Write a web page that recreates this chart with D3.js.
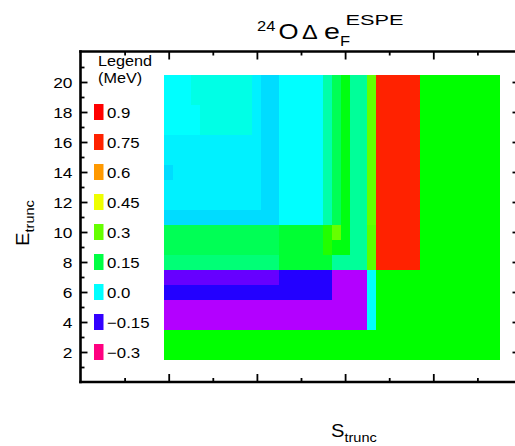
<!DOCTYPE html>
<html><head><meta charset="utf-8">
<script src="https://cdn.jsdelivr.net/npm/d3@7/dist/d3.min.js"></script>
<style>
body{margin:0;background:#fff}
svg{display:block}
text{font-family:"Liberation Sans",Arial,Helvetica,sans-serif;fill:#000}
</style>
</head><body>
<script>
// ---------------- DATA ----------------
const sValues = [10,11,12,13,14,15,16,17,18,19,20,21,22,23,24,25,26,27,28,29,30,31,32,33,34,35,36,37,38,39,40,41,42,43,44,45,46,47];
const eValues = [20,19,18,17,16,15,14,13,12,11,10,9,8,7,6,5,4,3,2];
// Δe_F^ESPE (MeV), one row per E_trunc (20 → 2), one column per S_trunc (10 → 47)
const row20 = [0,0,0,0.02,0.02,0.02,0.02,0.02,0.02,0.02,-0.007,-0.017,-0.017,0,0,0,0,0,0.068,0.136,0.195,0.082,0.082,0.3,0.75,0.75,0.75,0.75,0.75,0.21,0.21,0.21,0.21,0.21,0.21,0.21,0.21,0.21];
const row19 = [0,0,0,0.02,0.02,0.02,0.02,0.02,0.02,0.02,-0.007,-0.017,-0.017,0,0,0,0,0,0.068,0.136,0.195,0.082,0.082,0.3,0.75,0.75,0.75,0.75,0.75,0.21,0.21,0.21,0.21,0.21,0.21,0.21,0.21,0.21];
const row18 = [0,0,0,0,0.02,0.02,0.02,0.02,0.02,0.02,-0.007,-0.017,-0.017,0,0,0,0,0,0.068,0.136,0.195,0.082,0.082,0.3,0.75,0.75,0.75,0.75,0.75,0.21,0.21,0.21,0.21,0.21,0.21,0.21,0.21,0.21];
const row17 = [0,0,0,0,0.02,0.02,0.02,0.02,0.02,0.02,-0.007,-0.017,-0.017,0,0,0,0,0,0.068,0.136,0.195,0.082,0.082,0.3,0.75,0.75,0.75,0.75,0.75,0.21,0.21,0.21,0.21,0.21,0.21,0.21,0.21,0.21];
const row16 = [-0.007,-0.007,-0.007,-0.007,-0.007,-0.007,-0.007,-0.007,-0.007,-0.007,-0.007,-0.017,-0.017,0,0,0,0,0,0.068,0.136,0.195,0.082,0.082,0.3,0.75,0.75,0.75,0.75,0.75,0.21,0.21,0.21,0.21,0.21,0.21,0.21,0.21,0.21];
const row15 = [-0.007,-0.007,-0.007,-0.007,-0.007,-0.007,-0.007,-0.007,-0.007,-0.007,-0.007,-0.017,-0.017,0,0,0,0,0,0.068,0.136,0.195,0.082,0.082,0.3,0.75,0.75,0.75,0.75,0.75,0.21,0.21,0.21,0.21,0.21,0.21,0.21,0.21,0.21];
const row14 = [-0.017,-0.007,-0.007,-0.007,-0.007,-0.007,-0.007,-0.007,-0.007,-0.007,-0.007,-0.017,-0.017,0,0,0,0,0,0.068,0.136,0.195,0.082,0.082,0.3,0.75,0.75,0.75,0.75,0.75,0.21,0.21,0.21,0.21,0.21,0.21,0.21,0.21,0.21];
const row13 = [-0.007,-0.007,-0.007,-0.007,-0.007,-0.007,-0.007,-0.007,-0.007,-0.007,-0.007,-0.017,-0.017,0,0,0,0,0,0.068,0.136,0.195,0.082,0.082,0.3,0.75,0.75,0.75,0.75,0.75,0.21,0.21,0.21,0.21,0.21,0.21,0.21,0.21,0.21];
const row12 = [-0.007,-0.007,-0.007,-0.007,-0.007,-0.007,-0.007,-0.007,-0.007,-0.007,-0.007,-0.017,-0.017,0,0,0,0,0,0.068,0.136,0.195,0.082,0.082,0.3,0.75,0.75,0.75,0.75,0.75,0.21,0.21,0.21,0.21,0.21,0.21,0.21,0.21,0.21];
const row11 = [-0.017,-0.017,-0.017,-0.017,-0.017,-0.017,-0.017,-0.017,-0.017,-0.017,-0.017,-0.017,-0.017,0,0,0,0,0,0.068,0.136,0.195,0.082,0.082,0.3,0.75,0.75,0.75,0.75,0.75,0.21,0.21,0.21,0.21,0.21,0.21,0.21,0.21,0.21];
const row10 = [0.136,0.136,0.136,0.136,0.136,0.136,0.136,0.136,0.136,0.136,0.136,0.136,0.136,0.165,0.165,0.165,0.165,0.165,0.24,0.3,0.195,0.082,0.082,0.29,0.75,0.75,0.75,0.75,0.75,0.21,0.21,0.21,0.21,0.21,0.21,0.21,0.21,0.21];
const row9  = [0.136,0.136,0.136,0.136,0.136,0.136,0.136,0.136,0.136,0.136,0.136,0.136,0.136,0.165,0.165,0.165,0.165,0.165,0.24,0.195,0.195,0.082,0.082,0.29,0.75,0.75,0.75,0.75,0.75,0.21,0.21,0.21,0.21,0.21,0.21,0.21,0.21,0.21];
const row8  = [0.11,0.11,0.11,0.11,0.11,0.11,0.11,0.11,0.11,0.11,0.11,0.11,0.11,0.165,0.165,0.165,0.165,0.165,0.165,0.082,0.082,0.082,0.082,0.29,0.75,0.75,0.75,0.75,0.75,0.21,0.21,0.21,0.21,0.21,0.21,0.21,0.21,0.21];
const row7  = [-0.173,-0.173,-0.173,-0.173,-0.173,-0.173,-0.173,-0.173,-0.173,-0.173,-0.173,-0.173,-0.173,-0.142,-0.142,-0.142,-0.142,-0.142,-0.142,-0.208,-0.208,-0.208,-0.208,0,0.21,0.21,0.21,0.21,0.21,0.21,0.21,0.21,0.21,0.21,0.21,0.21,0.21,0.21];
const row6  = [-0.142,-0.142,-0.142,-0.142,-0.142,-0.142,-0.142,-0.142,-0.142,-0.142,-0.142,-0.142,-0.142,-0.142,-0.142,-0.142,-0.142,-0.142,-0.142,-0.208,-0.208,-0.208,-0.208,0,0.21,0.21,0.21,0.21,0.21,0.21,0.21,0.21,0.21,0.21,0.21,0.21,0.21,0.21];
const row5  = [-0.208,-0.208,-0.208,-0.208,-0.208,-0.208,-0.208,-0.208,-0.208,-0.208,-0.208,-0.208,-0.208,-0.208,-0.208,-0.208,-0.208,-0.208,-0.208,-0.208,-0.208,-0.208,-0.208,0,0.21,0.21,0.21,0.21,0.21,0.21,0.21,0.21,0.21,0.21,0.21,0.21,0.21,0.21];
const row4  = [-0.208,-0.208,-0.208,-0.208,-0.208,-0.208,-0.208,-0.208,-0.208,-0.208,-0.208,-0.208,-0.208,-0.208,-0.208,-0.208,-0.208,-0.208,-0.208,-0.208,-0.208,-0.208,-0.208,0,0.21,0.21,0.21,0.21,0.21,0.21,0.21,0.21,0.21,0.21,0.21,0.21,0.21,0.21];
const row3  = [0.21,0.21,0.21,0.21,0.21,0.21,0.21,0.21,0.21,0.21,0.21,0.21,0.21,0.21,0.21,0.21,0.21,0.21,0.21,0.21,0.21,0.21,0.21,0.21,0.21,0.21,0.21,0.21,0.21,0.21,0.21,0.21,0.21,0.21,0.21,0.21,0.21,0.21];
const row2  = [0.21,0.21,0.21,0.21,0.21,0.21,0.21,0.21,0.21,0.21,0.21,0.21,0.21,0.21,0.21,0.21,0.21,0.21,0.21,0.21,0.21,0.21,0.21,0.21,0.21,0.21,0.21,0.21,0.21,0.21,0.21,0.21,0.21,0.21,0.21,0.21,0.21,0.21];
const cellValues = [row20,row19,row18,row17,row16,row15,row14,row13,row12,row11,row10,row9,row8,row7,row6,row5,row4,row3,row2];

const legendValues = [0.9,0.75,0.6,0.45,0.3,0.15,0.0,-0.15,-0.3];
const legendLabels = ["0.9","0.75","0.6","0.45","0.3","0.15","0.0","\u22120.15","\u22120.3"];
const legendColors = ["#ff0000","#ff2200","#ff9900","#eeff00","#66ff00","#00ff44","#00ffff","#3300ff","#ff0080"];
const yMajorTicks = [2,4,6,8,10,12,14,16,18,20];
const yMinorTicks = [1,3,5,7,9,11,13,15,17,19,21];
const xMajorTicks = [10,20,30,40];
const xMinorTicks = [5,15,25,35,45];

// ---------------- CHART ----------------
const W = 515, H = 446, SX = 1.12;
const svg = d3.select("body").append("svg").attr("width", W).attr("height", H);
const x = d3.scaleLinear().domain([0, 50]).range([80.5, 521.5]);
const y = d3.scaleLinear().domain([0, 22]).range([382, 52]);
const color = d3.scaleLinear()
  .domain(legendValues.slice().reverse())
  .range(legendColors.slice().reverse())
  .interpolate(d3.interpolateHsl).clamp(true);

// cells
const cells = [];
eValues.forEach((e, i) => sValues.forEach((s, j) => cells.push({s, e, v: cellValues[i][j]})));
svg.append("g").selectAll("rect").data(cells).join("rect")
  .attr("x", d => x(d.s - 0.5))
  .attr("y", d => y(d.e + 0.5))
  .attr("width", d => x(d.s + 0.5) - x(d.s - 0.5) + 0.4)
  .attr("height", d => y(d.e - 0.5) - y(d.e + 0.5) + 0.4)
  .attr("fill", d => color(d.v))
  .attr("shape-rendering", "crispEdges");

// axes ticks
function styleAxis(g) {
  g.select(".domain").remove();
  g.selectAll(".tick line").attr("stroke", "#000").attr("stroke-width", 1.8);
}
const gL = svg.append("g").attr("transform", `translate(${x(0)},0)`)
  .call(d3.axisLeft(y).tickValues(yMajorTicks).tickSize(-7).tickPadding(8).tickFormat(d3.format("d")));
styleAxis(gL);
gL.selectAll(".tick text").attr("font-size", null).style("font-size", "15.5px")
  .attr("x", null).attr("dy", null)
  .attr("transform", `translate(-8,5.6) scale(${SX},1)`).attr("font-family", null);
const gLm = svg.append("g").attr("transform", `translate(${x(0)},0)`)
  .call(d3.axisLeft(y).tickValues(yMinorTicks).tickSize(-4).tickFormat(""));
styleAxis(gLm);
const gR = svg.append("g").attr("transform", `translate(${x(50)},0)`)
  .call(d3.axisRight(y).tickValues(yMajorTicks).tickSize(-9).tickFormat(""));
styleAxis(gR);
const gRm = svg.append("g").attr("transform", `translate(${x(50)},0)`)
  .call(d3.axisRight(y).tickValues(yMinorTicks).tickSize(-5).tickFormat(""));
styleAxis(gRm);
const gB = svg.append("g").attr("transform", `translate(0,${y(0)})`)
  .call(d3.axisBottom(x).tickValues(xMajorTicks).tickSize(-8).tickFormat(""));
styleAxis(gB);
const gBm = svg.append("g").attr("transform", `translate(0,${y(0)})`)
  .call(d3.axisBottom(x).tickValues(xMinorTicks).tickSize(-4).tickFormat(""));
styleAxis(gBm);
const gT = svg.append("g").attr("transform", `translate(0,${y(22) - 0.5})`)
  .call(d3.axisTop(x).tickValues(xMajorTicks).tickSize(-8).tickFormat(""));
styleAxis(gT);
const gTm = svg.append("g").attr("transform", `translate(0,${y(22) - 0.5})`)
  .call(d3.axisTop(x).tickValues(xMinorTicks).tickSize(-4).tickFormat(""));
styleAxis(gTm);

// frame
const frame = svg.append("g").attr("stroke", "#000").attr("stroke-width", 2.6).attr("fill", "none");
frame.append("line").attr("x1", x(0)).attr("x2", x(0)).attr("y1", y(22) - 1.8).attr("y2", y(0) + 1.3);
frame.append("line").attr("x1", x(0) - 1.3).attr("x2", x(50)).attr("y1", y(0)).attr("y2", y(0));
frame.append("line").attr("x1", x(0) - 1.3).attr("x2", x(50)).attr("y1", y(22) - 0.5).attr("y2", y(22) - 0.5);
frame.append("line").attr("x1", x(50)).attr("x2", x(50)).attr("y1", y(22)).attr("y2", y(0));

// text helper (horizontally stretched sans)
function stext(str, tx, ty, size, anchor, sx) {
  return svg.append("text")
    .attr("transform", `translate(${tx},${ty}) scale(${sx || SX},1)`)
    .attr("text-anchor", anchor || "start")
    .style("font-size", size + "px")
    .text(str);
}

// legend
stext("Legend", 98, 66, 15, "start", 1.08);
stext("(MeV)", 98, 83, 15, "start", 1.08);
const lg = svg.append("g");
legendValues.forEach((v, i) => {
  const cy = y(18 - 2 * i);
  lg.append("rect").attr("x", 94).attr("y", cy - 8).attr("width", 9.5).attr("height", 16)
    .attr("fill", legendColors[i]);
  stext(legendLabels[i], 107, cy + 5.5, 15, "start");
});

// title
stext("24", 257, 31, 15, "start", 1.1);
stext("O", 278.5, 38.5, 23, "start", 1.12);
stext("\u0394", 302, 38.5, 21, "start", 1.12);
stext("e", 324, 38.5, 22, "start", 1.3);
stext("F", 340, 45.5, 15, "start", 1.1);
stext("ESPE", 345.5, 25, 15, "start", 1.45);

// axis titles
const yl = svg.append("text").attr("transform", `translate(29,223) rotate(-90) scale(${SX},1)`)
  .attr("text-anchor", "middle");
yl.append("tspan").style("font-size", "18px").text("E");
yl.append("tspan").style("font-size", "13px").attr("dy", 5).text("trunc");
const xl = svg.append("text").attr("transform", `translate(331,437) scale(${SX},1)`)
  .attr("text-anchor", "start");
xl.append("tspan").style("font-size", "18px").text("S");
xl.append("tspan").style("font-size", "13px").attr("dy", 5).text("trunc");
</script>
</body></html>
